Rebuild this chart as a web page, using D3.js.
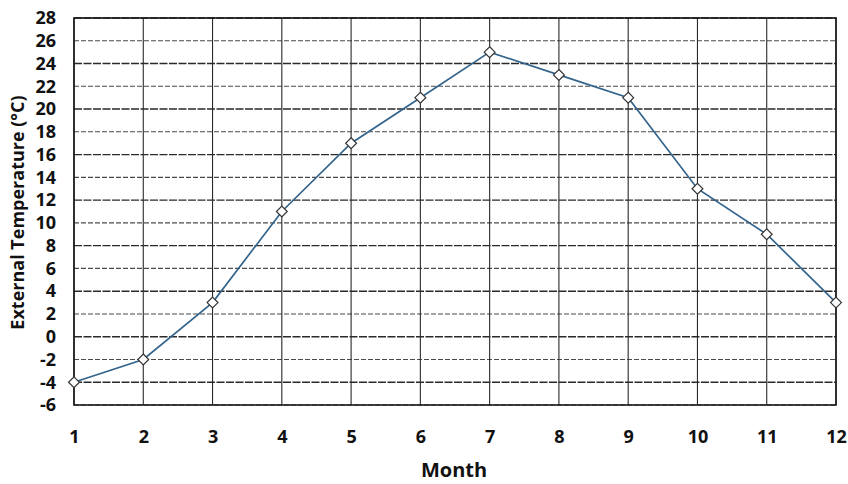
<!DOCTYPE html>
<html><head><meta charset="utf-8">
<script src="https://cdn.jsdelivr.net/npm/d3@7"></script>
<style>body{margin:0;background:#fff}svg{display:block}</style>
</head><body>
<script>
const months = [1,2,3,4,5,6,7,8,9,10,11,12];
const temperature = [-4,-2,3,11,17,21,25,23,21,13,9,3];
const yTicks = d3.range(-6, 29, 2);

const W = 848, H = 484;
const m = {left:74, right:12, top:18, bottom:79};
const svg = d3.select("body").append("svg").attr("width", W).attr("height", H);
const x = d3.scaleLinear().domain([1,12]).range([m.left, W - m.right]);
const y = d3.scaleLinear().domain([-6,28]).range([H - m.bottom, m.top]);
const font = "'Open Sans', 'DejaVu Sans', sans-serif";

const g = svg.append("g");
// horizontal grid
g.selectAll(".hg").data(yTicks).join("line")
  .attr("x1", x(1)).attr("x2", x(12))
  .attr("y1", d => y(d)).attr("y2", d => y(d))
  .attr("stroke", d => d % 4 === 0 ? "#2a2a2a" : "#4a4a4a")
  .attr("stroke-width", d => d % 4 === 0 ? 1.4 : 1.1)
  .attr("stroke-dasharray", d => d % 4 === 0 ? "8,1.5" : "5,2");
// vertical grid
g.selectAll(".vg").data(months).join("line")
  .attr("x1", d => x(d)).attr("x2", d => x(d))
  .attr("y1", y(28)).attr("y2", y(-6))
  .attr("stroke", "#2a2a2a").attr("stroke-width", 1.1);
// frame
g.append("rect").attr("x", x(1)).attr("y", y(28))
  .attr("width", x(12) - x(1)).attr("height", y(-6) - y(28))
  .attr("fill", "none").attr("stroke", "#1a1a1a").attr("stroke-width", 1.6);

// axes
const yAxis = d3.axisLeft(y).tickValues(yTicks).tickFormat(d => String(d)).tickSize(0).tickPadding(18);
const ya = svg.append("g").attr("transform", `translate(${m.left},0)`).call(yAxis);
const xAxis = d3.axisBottom(x).tickValues(months).tickFormat(d => String(d)).tickSize(0).tickPadding(25);
const xa = svg.append("g").attr("transform", `translate(0,${H - m.bottom})`).call(xAxis);
[ya, xa].forEach(a => {
  a.select(".domain").remove();
  a.selectAll("text").attr("font-family", font).attr("font-weight", "bold")
    .attr("font-size", 18).attr("fill", "#111");
});

// line
const data = months.map((mo, i) => ({m: mo, t: temperature[i]}));
svg.append("path").datum(data)
  .attr("d", d3.line().x(d => x(d.m)).y(d => y(d.t)))
  .attr("fill", "none").attr("stroke", "#34648c").attr("stroke-width", 1.7);
svg.selectAll(".pt").data(data).join("path")
  .attr("d", d3.symbol(d3.symbolDiamond2, 75))
  .attr("transform", d => `translate(${x(d.m)},${y(d.t)})`)
  .attr("fill", "#fff").attr("stroke", "#333").attr("stroke-width", 1.2);

// titles
svg.append("text").attr("x", (x(1) + x(12)) / 2 - 1).attr("y", 477)
  .attr("text-anchor", "middle").attr("font-family", font).attr("font-weight", "bold")
  .attr("font-size", 20).attr("fill", "#111").text("Month");
svg.append("text").attr("transform", `translate(24,${(y(28) + y(-6)) / 2 + 1}) rotate(-90)`)
  .attr("text-anchor", "middle").attr("font-family", font).attr("font-weight", "bold")
  .attr("font-size", 18).attr("fill", "#111").text("External Temperature (°C)");
</script>
</body></html>
